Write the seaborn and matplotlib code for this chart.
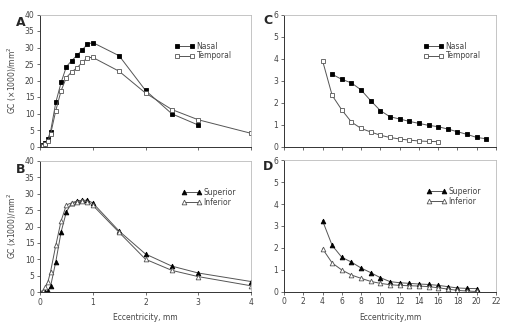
import matplotlib
matplotlib.use("Agg")
import matplotlib.pyplot as plt
import seaborn as sns
import pandas as pd

sns.set_theme(style="white")
plt.rcParams['font.family'] = ['DejaVu Sans']

# Panel A: nasal / temporal, central retina
a_x_nasal = [0, 0.05, 0.1, 0.15, 0.2, 0.3, 0.4, 0.5, 0.6, 0.7, 0.8, 0.9, 1.0, 1.5, 2.0, 2.5, 3.0]
a_nasal = [0, 0.5, 1.2, 2.4, 4.5, 13.4, 19.4, 24.2, 26.0, 27.6, 29.3, 31.0, 31.5, 27.5, 17.0, 9.9, 6.5]
a_x_temporal = [0, 0.05, 0.1, 0.15, 0.2, 0.3, 0.4, 0.5, 0.6, 0.7, 0.8, 0.9, 1.0, 1.5, 2.0, 2.5, 3.0, 4.0]
a_temporal = [0, 0.3, 0.8, 1.8, 3.7, 10.9, 16.9, 20.9, 22.6, 23.8, 25.5, 26.9, 27.0, 22.8, 16.2, 11.2, 8.1, 4.0]

# Panel B: superior / inferior, central retina
b_x = [0, 0.05, 0.1, 0.15, 0.2, 0.3, 0.4, 0.5, 0.6, 0.7, 0.8, 0.9, 1.0, 1.5, 2.0, 2.5, 3.0, 4.0]
b_superior = [0, 0, 0, 0.3, 1.7, 9.3, 18.3, 24.5, 27.1, 27.8, 28.0, 28.0, 27.2, 18.6, 11.6, 7.9, 5.8, 3.2]
b_inferior = [0, 0.3, 1.4, 3.1, 6.2, 14.3, 21.7, 26.6, 27.2, 27.6, 27.8, 27.6, 26.5, 18.2, 10.0, 6.6, 4.7, 1.9]

# Panel C: nasal / temporal, peripheral retina
c_x_nasal = [5, 6, 7, 8, 9, 10, 11, 12, 13, 14, 15, 16, 17, 18, 19, 20, 21]
c_nasal = [3.29, 3.06, 2.9, 2.58, 2.09, 1.64, 1.36, 1.26, 1.15, 1.06, 0.97, 0.91, 0.8, 0.68, 0.56, 0.42, 0.36]
c_x_temporal = [4, 5, 6, 7, 8, 9, 10, 11, 12, 13, 14, 15, 16]
c_temporal = [3.91, 2.33, 1.67, 1.12, 0.83, 0.67, 0.52, 0.42, 0.35, 0.3, 0.26, 0.24, 0.23]

# Panel D: superior / inferior, peripheral retina
d_x = [4, 5, 6, 7, 8, 9, 10, 11, 12, 13, 14, 15, 16, 17, 18, 19, 20]
d_superior = [3.24, 2.11, 1.57, 1.35, 1.08, 0.87, 0.64, 0.46, 0.41, 0.38, 0.35, 0.33, 0.29, 0.23, 0.17, 0.15, 0.14]
d_inferior = [1.96, 1.31, 0.99, 0.76, 0.61, 0.47, 0.38, 0.32, 0.29, 0.27, 0.26, 0.23, 0.18, 0.12, 0.06, 0.03, 0.01]

fig = plt.figure(figsize=(5.12, 3.22), dpi=100)
axA = fig.add_axes([40/512, 1-146.5/322, 211/512, 132/322])
axB = fig.add_axes([40/512, 1-292/322, 211/512, 131/322])
axC = fig.add_axes([284/512, 1-146.7/322, 212/512, 132/322])
axD = fig.add_axes([284/512, 1-291.7/322, 212/512, 131.5/322])

LC = '#555555'
TC = '#444444'
FS = 5.5

def series(ax, x, y, marker, filled, label, ms):
    df = pd.DataFrame({'x': x, 'y': y})
    sns.lineplot(data=df, x='x', y='y', ax=ax, color=LC, linewidth=0.7,
                 marker=marker, markersize=ms,
                 markerfacecolor='black' if filled else 'white',
                 markeredgecolor='black' if filled else '#555555',
                 markeredgewidth=0.6, label=label)

MS_SQ = 3.0
MS_TR = 3.4
series(axA, a_x_nasal, a_nasal, 's', True, 'Nasal', MS_SQ)
series(axA, a_x_temporal, a_temporal, 's', False, 'Temporal', MS_SQ)
series(axB, b_x, b_superior, '^', True, 'Superior', MS_TR)
series(axB, b_x, b_inferior, '^', False, 'Inferior', MS_TR)
series(axC, c_x_nasal, c_nasal, 's', True, 'Nasal', MS_SQ)
series(axC, c_x_temporal, c_temporal, 's', False, 'Temporal', MS_SQ)
series(axD, d_x, d_superior, '^', True, 'Superior', MS_TR)
series(axD, d_x, d_inferior, '^', False, 'Inferior', MS_TR)

for ax in (axA, axB):
    ax.set_xlim(0, 4)
    ax.set_ylim(0, 40)
    ax.set_xticks([0, 1, 2, 3, 4])
    ax.set_yticks(range(0, 41, 5))
for ax in (axC, axD):
    ax.set_xlim(0, 22)
    ax.set_ylim(0, 6)
    ax.set_xticks(range(0, 23, 2))
    ax.set_yticks(range(0, 7))

for ax in (axA, axB, axC, axD):
    ax.set_xlabel('')
    ax.set_ylabel('')
    for s in ('top', 'right'):
        ax.spines[s].set_color('#bbbbbb')
        ax.spines[s].set_linewidth(0.6)
    for s in ('left', 'bottom'):
        ax.spines[s].set_color('#333333')
        ax.spines[s].set_linewidth(0.7)
    ax.tick_params(axis='both', which='both', direction='out', length=2, width=0.5,
                   colors='#333333', labelsize=FS, labelcolor=TC, pad=2,
                   left=True, bottom=True)

axA.tick_params(labelbottom=False)
axC.tick_params(labelbottom=False)

axA.set_ylabel('GC (×1000)/mm$^2$', fontsize=FS, color=TC, labelpad=4)
axB.set_ylabel('GC (x1000)/mm$^2$', fontsize=FS, color=TC, labelpad=4)
axB.set_xlabel('Eccentricity, mm', fontsize=FS, color=TC, labelpad=5)
axD.set_xlabel('Eccentricity,mm', fontsize=FS, color=TC, labelpad=5)

for ax, anchor in ((axA, (0.93, 0.83)), (axB, (0.95, 0.83)), (axC, (0.95, 0.83)), (axD, (0.95, 0.83))):
    ax.legend(loc='upper right', bbox_to_anchor=anchor, frameon=False, fontsize=FS,
              handlelength=2.6, numpoints=2, handletextpad=0.25, labelspacing=0.1,
              borderpad=0.1, labelcolor=TC)

fig.text(16/512, 1-22/322, 'A', fontsize=9, fontweight='bold', ha='left', va='center')
fig.text(16/512, 1-169/322, 'B', fontsize=9, fontweight='bold', ha='left', va='center')
fig.text(263/512, 1-20/322, 'C', fontsize=9, fontweight='bold', ha='left', va='center')
fig.text(263/512, 1-166/322, 'D', fontsize=9, fontweight='bold', ha='left', va='center')

fig.savefig('out.png', dpi=100)
